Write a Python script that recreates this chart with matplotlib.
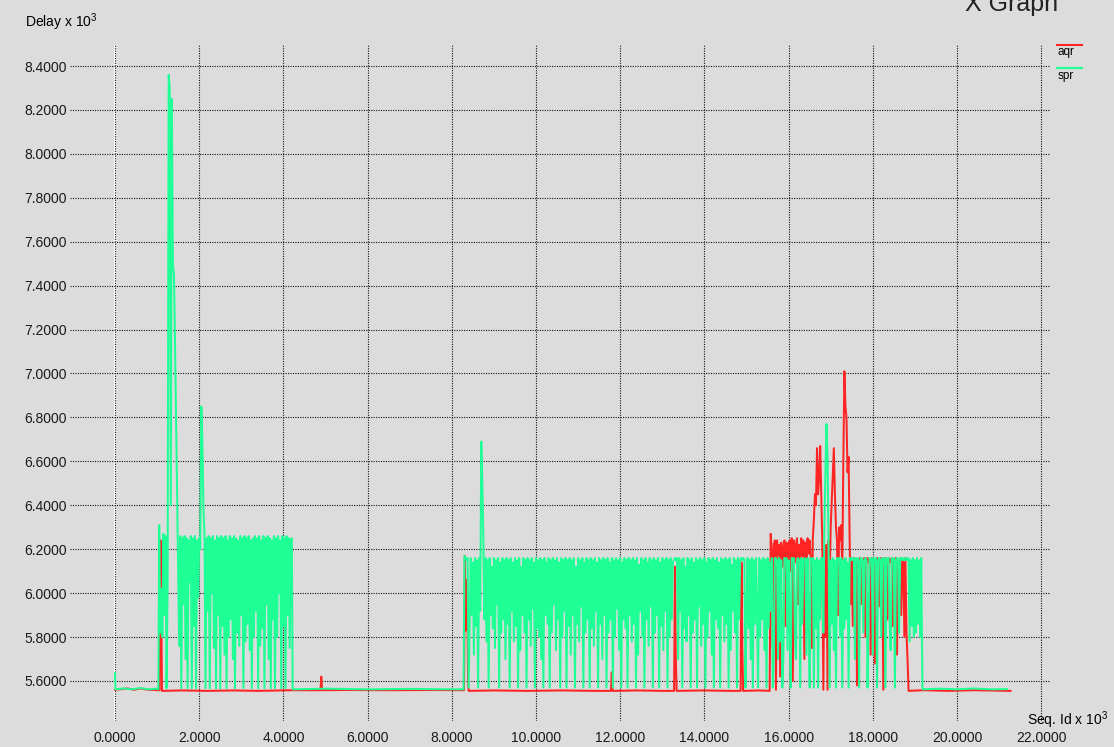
import numpy as np
import matplotlib
matplotlib.use("Agg")
import matplotlib.pyplot as plt
from matplotlib.lines import Line2D

plt.rcParams['font.family'] = ['Liberation Sans', 'DejaVu Sans']
plt.rcParams['mathtext.fontset'] = 'custom'
plt.rcParams['mathtext.rm'] = 'Liberation Sans'

# sampling interval of the dense parts (seq id x 10^3)
STEP = 0.025

# ---- spr (green) ----
spr_head_x = [0.00, 0.01, 0.20, 0.40, 0.60, 0.80, 1.00, 1.03]
spr_head_y = [5.636, 5.562, 5.566, 5.562, 5.568, 5.562, 5.565, 5.562]

spr_burst1_start = 1.05
spr_burst1 = [6.31, 5.82, 6.02, 5.80, 6.27, 5.90, 6.26, 5.567, 6.06, 8.36,
              8.30, 6.40, 8.25, 7.50, 7.45, 7.15, 6.80, 6.44, 6.10, 5.76,
              6.26, 5.567, 6.25, 5.95, 6.26, 5.70, 6.25, 5.567, 6.24, 6.05,
              6.26, 5.567, 6.25, 5.85, 6.26, 5.567, 6.24, 5.98, 6.25, 6.20,
              6.85, 6.70, 6.39, 6.27, 5.567, 6.25, 5.92, 6.26, 5.567, 6.25,
              6.00, 6.26, 5.75, 6.24, 5.567, 6.26, 5.90, 6.25, 5.567, 6.26,
              5.85, 6.25, 5.72, 6.26, 5.567, 6.24, 5.80, 6.26, 5.88, 6.25,
              5.70, 6.26, 5.567, 6.25, 5.82, 6.24, 5.76, 6.26, 5.90, 6.25,
              5.567, 6.26, 5.78, 6.25, 5.86, 6.26, 5.74, 6.24, 5.567, 6.25,
              5.80, 6.26, 5.92, 6.25, 5.567, 6.26, 5.76, 6.24, 5.84, 6.26,
              5.567, 6.25, 5.95, 6.26, 5.70, 6.25, 5.567, 6.24, 5.88, 6.26,
              5.567, 6.25, 5.80, 6.26, 6.00, 6.24, 5.567, 6.26, 5.85, 6.25,
              5.567, 6.26, 5.90, 6.25, 5.75, 6.24, 6.25]

spr_gap_x = [4.22, 5.00, 6.00, 7.00, 8.00, 8.28]
spr_gap_y = [5.562, 5.565, 5.562, 5.564, 5.562, 5.562]

spr_burst2_start = 8.30
spr_burst2 = [6.17, 6.16, 6.15, 6.16, 5.57, 5.86, 6.16, 5.90, 6.14, 5.72, 6.16, 5.85, 6.15, 5.57, 6.16, 5.92, 6.69, 6.50, 6.24, 5.88,
              6.16, 5.78, 6.15, 5.57, 6.16, 5.90, 6.12, 5.84, 6.16, 5.75, 6.15, 5.95, 6.16, 5.57, 6.14, 5.82, 6.16, 5.88, 6.15, 5.70,
              6.16, 5.86, 6.15, 5.57, 6.16, 5.92, 6.14, 5.78, 6.16, 5.85, 6.15, 5.57, 6.16, 5.74, 6.12, 5.90, 6.16, 5.82, 6.15, 5.57,
              6.16, 5.88, 6.15, 5.76, 6.16, 5.93, 6.14, 5.57, 6.16, 5.84, 6.15, 5.80, 6.16, 5.70, 6.15, 5.57, 6.16, 5.90, 6.14, 5.86,
              6.16, 5.57, 6.15, 5.82, 6.16, 5.95, 6.15, 5.74, 6.16, 5.88, 6.14, 5.57, 6.16, 5.80, 6.15, 5.92, 6.16, 5.57, 6.15, 5.85,
              6.16, 5.72, 6.15, 5.90, 6.16, 5.57, 6.12, 5.86, 6.16, 5.78, 6.15, 5.94, 6.16, 5.57, 6.14, 5.82, 6.16, 5.88, 6.15, 5.57,
              6.16, 5.84, 6.15, 5.76, 6.16, 5.92, 6.14, 5.57, 6.16, 5.86, 6.15, 5.70, 6.16, 5.90, 6.15, 5.57, 6.16, 5.82, 6.14, 5.88,
              6.16, 5.57, 6.15, 5.80, 6.16, 5.93, 6.15, 5.74, 6.16, 5.57, 6.14, 5.88, 6.16, 5.84, 6.15, 5.57, 6.16, 5.90, 6.15, 5.78,
              6.16, 5.86, 6.15, 5.57, 6.16, 5.72, 6.13, 5.92, 6.16, 5.80, 6.15, 5.57, 6.16, 5.88, 6.14, 5.76, 6.16, 5.94, 6.15, 5.57,
              6.16, 5.82, 6.15, 5.90, 6.16, 5.57, 6.14, 5.85, 6.16, 5.74, 6.15, 5.92, 6.16, 5.57, 6.15, 5.80, 6.16, 5.88, 6.14, 6.15,
              6.16, 6.15, 6.16, 5.70, 6.16, 5.92, 6.15, 5.57, 6.16, 5.84, 6.12, 5.78, 6.16, 5.90, 6.15, 5.57, 6.16, 5.82, 6.14, 5.88,
              6.16, 5.57, 6.15, 5.94, 6.16, 5.76, 6.15, 5.86, 6.16, 5.57, 6.14, 5.80, 6.16, 5.92, 6.15, 5.72, 6.16, 5.57, 6.15, 5.88,
              6.16, 5.84, 6.14, 5.57, 6.16, 5.90, 6.15, 5.78, 6.16, 5.86, 6.15, 5.57, 6.16, 5.74, 6.13, 5.92, 6.16, 5.82, 6.15, 5.57,
              6.16, 5.88, 6.15, 6.16, 6.15, 6.16, 6.15, 5.57, 5.90, 6.16, 5.84, 6.15, 5.70, 6.16, 5.57, 6.15, 5.86, 6.16, 5.92, 5.57,
              6.16, 5.80, 6.15, 5.88, 6.16, 5.74, 6.15, 5.57, 6.16, 5.84, 6.14, 5.92, 6.16, 5.57, 5.72, 6.16, 6.16, 6.15, 5.70, 6.16,
              5.78, 6.15, 5.57, 5.70, 6.16, 6.15, 6.16, 5.74, 6.15, 5.88, 5.57, 6.16, 6.15, 6.16, 5.80, 5.70, 6.15, 6.16, 6.15, 5.57,
              6.16, 5.86, 6.15, 6.16, 6.15, 5.72, 6.16, 5.90, 5.57, 6.16, 6.15, 6.16, 5.57, 6.15, 5.84, 6.16, 5.57, 6.15, 5.88, 6.16,
              6.16, 5.82, 6.30, 6.55, 6.77, 6.62, 6.20, 5.57, 6.15, 5.86, 6.16, 5.74, 6.15, 5.57, 6.16, 6.15, 6.16, 5.80, 6.16, 5.57,
              6.15, 5.84, 6.16, 5.88, 6.14, 5.57, 6.16, 6.15, 6.16, 6.15, 6.16, 5.70, 6.16, 6.15, 6.16, 5.57, 6.15, 6.16, 6.15, 5.82,
              6.15, 6.16, 6.15, 5.57, 5.90, 6.16, 6.15, 6.16, 5.72, 6.16, 6.15, 6.16, 5.57, 6.15, 6.16, 6.15, 5.80, 6.16, 6.15, 6.16,
              5.57, 6.16, 6.15, 6.16, 5.86, 5.74, 6.16, 6.15, 6.16, 5.57, 6.15, 6.16, 6.15, 5.82, 6.16, 6.15, 6.16, 6.15, 6.16, 6.15,
              6.16, 6.15, 6.16, 5.78, 6.15, 5.85, 6.16, 5.80, 6.15, 5.82, 6.16, 5.86, 6.15, 5.80, 6.16]

spr_tail_x = [19.18, 19.60, 20.00, 20.40, 20.80, 21.19]
spr_tail_y = [5.562, 5.565, 5.562, 5.566, 5.562, 5.563]

# ---- aqr (red) ----
aqr_head_x = [0.00, 0.30, 0.45, 0.60, 0.80, 1.06, 1.085, 1.095, 1.105, 1.115,
              1.60, 2.20, 2.80, 3.40, 4.00, 4.20, 4.60, 4.88, 4.90, 4.92,
              5.50, 6.50, 7.50, 8.29, 8.31, 8.33, 8.35, 8.37, 8.385, 8.40,
              9.00, 9.80, 10.60, 11.40, 11.78, 11.80, 11.82, 12.40, 13.00, 13.28,
              13.30, 13.32, 13.34, 14.00, 14.60, 14.86, 14.88, 14.90, 14.92, 15.30,
              15.50]
aqr_head_y = [5.560, 5.566, 5.560, 5.566, 5.560, 5.558, 6.24, 6.04, 5.78, 5.555,
              5.557, 5.555, 5.557, 5.555, 5.557, 5.558, 5.558, 5.558, 5.62, 5.558,
              5.559, 5.558, 5.559, 5.558, 6.17, 5.83, 6.06, 5.97, 5.60, 5.555,
              5.557, 5.555, 5.557, 5.555, 5.555, 5.64, 5.555, 5.557, 5.555, 5.555,
              6.12, 5.71, 5.555, 5.557, 5.555, 5.555, 6.14, 5.75, 5.555, 5.557,
              5.555]

aqr_burst_start = 15.55
aqr_burst = [5.555, 6.27, 6.20, 5.75, 6.22, 6.24, 5.56, 6.24, 6.18, 6.22, 5.62, 6.23, 6.12, 6.20, 6.24, 5.85, 6.23, 6.15, 6.22, 6.24,
             6.10, 6.25, 5.60, 6.24, 6.14, 6.22, 6.25, 5.95, 6.22, 6.15, 6.25, 6.17, 6.24, 5.70, 6.23, 6.16, 6.25, 6.18, 6.24, 6.16,
             5.75, 6.25, 6.33, 6.45, 6.40, 6.66, 6.45, 6.52, 6.67, 6.45, 6.24, 5.56, 6.20, 5.80, 6.22, 5.56, 6.24, 6.05, 6.30, 6.42,
             6.55, 6.66, 6.45, 6.30, 6.24, 5.90, 6.30, 6.24, 6.31, 6.10, 6.60, 7.01, 6.85, 6.80, 6.55, 6.62, 6.24, 5.95, 6.16, 5.85,
             6.16, 6.15, 6.14, 5.58, 6.15, 6.14, 6.16, 5.95, 6.15, 6.14, 6.16, 5.80, 6.15, 6.16, 6.14, 6.15, 5.72, 6.16, 6.15, 6.14,
             5.68, 6.15, 6.16, 6.14, 5.94, 6.15, 6.16, 6.15, 5.56, 6.14, 6.16, 6.15, 5.88, 6.16, 6.14, 6.15, 6.16, 5.85, 6.15, 6.14,
             6.16, 5.72, 6.15, 6.14, 6.16, 5.90, 6.15, 6.14, 5.80, 6.16, 5.82, 5.70, 5.555]

aqr_tail_x = [19.20, 19.80, 20.40, 21.00, 21.27]
aqr_tail_y = [5.558, 5.555, 5.558, 5.556, 5.555]

xticks = np.arange(0, 23, 2)
yticks = [5.6, 5.8, 6.0, 6.2, 6.4, 6.6, 6.8, 7.0, 7.2, 7.4, 7.6, 7.8, 8.0, 8.2, 8.4]


def sampled(start, values):
    return list(start + STEP * np.arange(len(values)))


spr_x = spr_head_x + sampled(spr_burst1_start, spr_burst1) + spr_gap_x \
    + sampled(spr_burst2_start, spr_burst2) + spr_tail_x
spr_y = spr_head_y + spr_burst1 + spr_gap_y + spr_burst2 + spr_tail_y
aqr_x = aqr_head_x + sampled(aqr_burst_start, aqr_burst) + aqr_tail_x
aqr_y = aqr_head_y + aqr_burst + aqr_tail_y

RED = '#ff2424'
GREEN = '#1eff96'
BG = '#dcdcdc'
W, H = 1114, 747

fig = plt.figure(figsize=(W / 100, H / 100), dpi=100, facecolor=BG)
ax = fig.add_axes([70 / W, 26 / H, 980 / W, 676 / H])
ax.set_facecolor(BG)
for s in ax.spines.values():
    s.set_visible(False)

ax.set_xlim(-45 / 42.1, 935 / 42.1)
ax.set_ylim(5.6 - 40 / 219.6, 8.4 + 21 / 219.6)
ax.set_xticks(xticks)
ax.set_yticks(yticks)
ax.set_xticklabels(['%.4f' % v for v in xticks])
ax.set_yticklabels(['%.4f' % v for v in yticks])
ax.tick_params(length=0, labelsize=10, colors='#1a1a1a')
ax.tick_params(axis='y', pad=2.5)
ax.tick_params(axis='x', pad=7)
ax.grid(True, color='#111111', linestyle=(0, (1, 1.2)), linewidth=0.8)
ax.axvline(0, color='white', lw=1.5, zorder=1.5)

# xgraph draws the sets in order, so spr ends up over aqr
ax.plot(aqr_x, aqr_y, color=RED, lw=1.45, zorder=2)
ax.plot(spr_x, spr_y, color=GREEN, lw=1.45, zorder=3)

fig.text(25 / W, 1 - 27 / H, 'Delay x 10$^3$', fontsize=10, va='baseline')
fig.text(1027 / W, 1 - 725 / H, 'Seq. Id x 10$^3$', fontsize=10, va='baseline')
fig.text(965 / W, 1 - 11 / H, 'X Graph', fontsize=18, va='baseline', color='#222222')

# legend in the top-right corner
for label, col, ly in [('aqr', RED, 44.5), ('spr', GREEN, 68)]:
    fig.add_artist(Line2D([1057 / W, 1082 / W], [1 - ly / H, 1 - ly / H], color=col, lw=1.5))
    fig.text(1058 / W, 1 - (ly + 11) / H, label, fontsize=8.5, va='baseline')

fig.savefig('out.png', dpi=100, facecolor=BG)
